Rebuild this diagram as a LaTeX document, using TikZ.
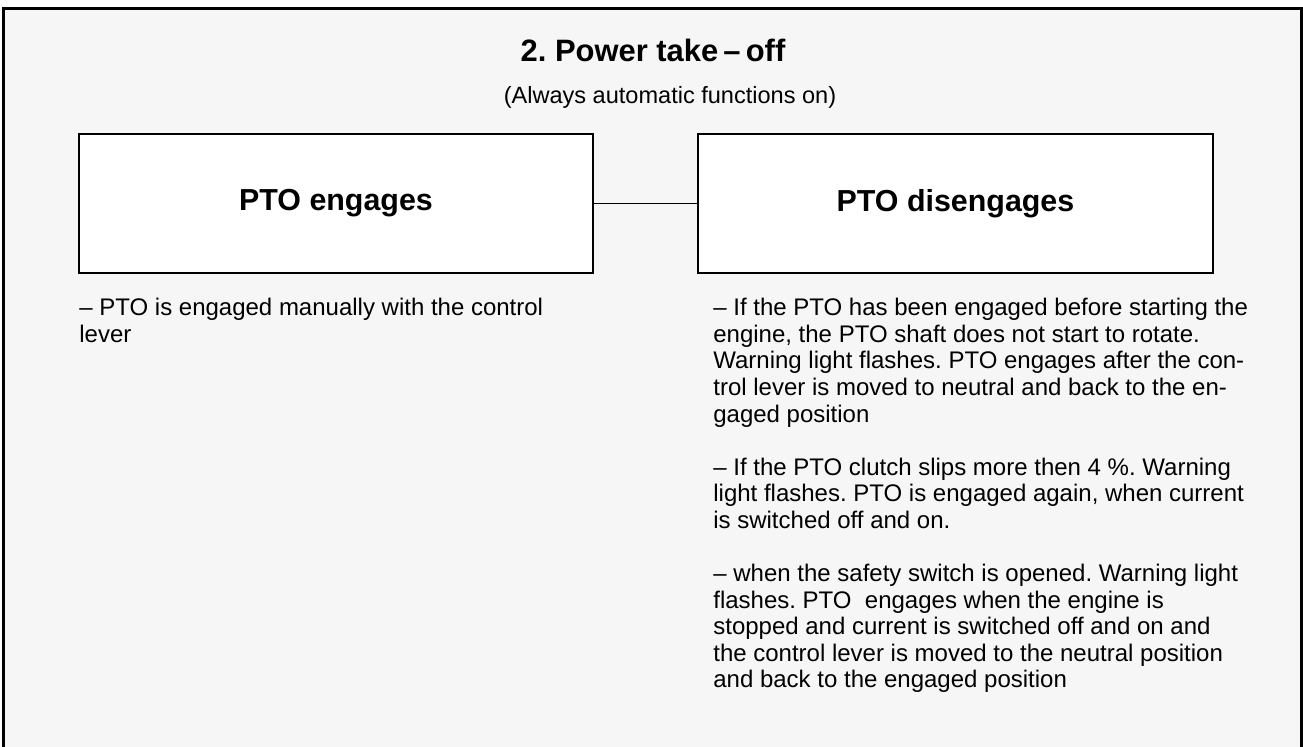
\documentclass[tikz,border=0pt]{standalone}
\usepackage{fontspec}
\setmainfont{Liberation Sans}
\definecolor{panelgray}{HTML}{F6F6F6}
\frenchspacing

\begin{document}
\begin{tikzpicture}[x=0.02cm, y=-0.02cm,
                heading/.style = {font=\fontsize{17.6}{21}\selectfont\bfseries},
                note/.style = {font=\fontsize{13.4}{16}\selectfont},
                mode/.style = {draw, line width=1.1pt, fill=white, minimum height=2.78cm,
                               font=\fontsize{17.3}{21}\selectfont\bfseries},
                body/.style = {anchor=north west, align=left, inner sep=0pt,
                               font=\fontsize{13.66}{15.13}\selectfont},
                wire/.style = {line width=0.9pt},
            ]
            \useasboundingbox (0,0) rectangle (1303,747);
            \fill[panelgray] (3.5,8.5) rectangle (1301.5,747);
            \draw[line width=1.2pt] (3.5,747) -- (3.5,8.5) -- (1301.5,8.5) -- (1301.5,747);

            \node (title) at (653,50) [heading] {2. Power take\,--\,off};
            \node (sub) at (670,97) [note] {(Always automatic functions on)};

            \node (eng) at (336,203.5) [mode, minimum width=10.28cm] {PTO engages};
            \node (dis) at (955.5,203.5) [mode, minimum width=10.3cm] {PTO disengages};
            \draw[wire] (eng) -- (dis);

            \node (engtxt) at (79,298) [body] {-- PTO is engaged manually with the control\\lever};
            \node (distxt) at (713,298) [body] {%
                -- If the PTO has been engaged before starting the\\
                engine, the PTO shaft does not start to rotate.\\
                Warning light flashes. PTO engages after the con-\\
                trol lever is moved to neutral and back to the en-\\
                gaged position\\[15.13pt]
                -- If the PTO clutch slips more then 4 \%. Warning\\
                light flashes. PTO is engaged again, when current\\
                is switched off and on.\\[15.13pt]
                -- when the safety switch is opened. Warning light\\
                flashes. PTO\ \ engages when the engine is\\
                stopped and current is switched off and on and\\
                the control lever is moved to the neutral position\\
                and back to the engaged position};
        \end{tikzpicture}
\end{document}
